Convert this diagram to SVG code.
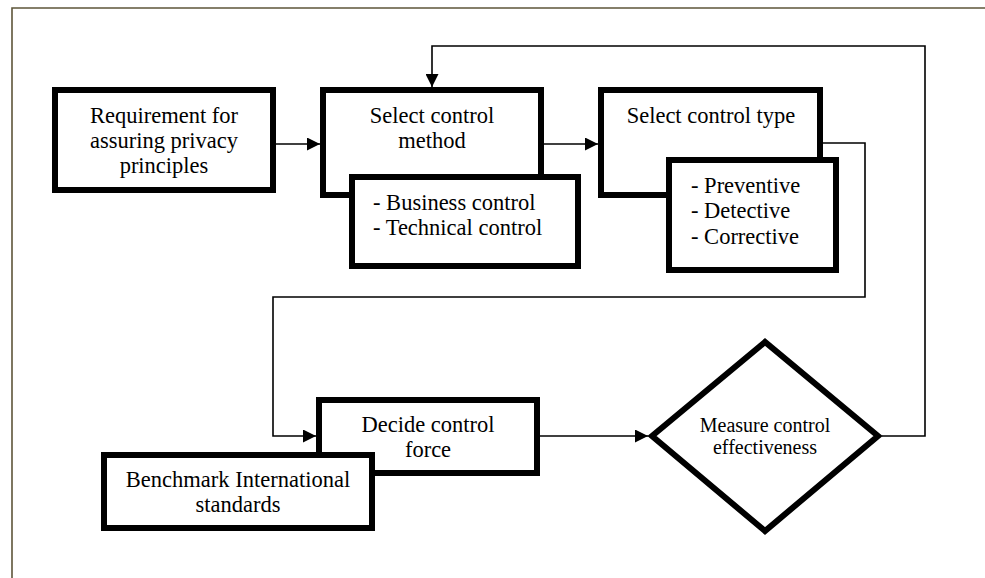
<svg xmlns="http://www.w3.org/2000/svg" width="985" height="578" viewBox="0 0 985 578">
  <style>
    .box { fill: #ffffff; stroke: #000000; stroke-width: 6; }
    .conn { fill: none; stroke: #000000; stroke-width: 1.6; }
    .lbl { font-family: "Liberation Serif", "Times New Roman", serif; font-size: 22.5px; fill: #000000; }
    .mid { text-anchor: middle; }
    .small { font-size: 20px; }
  </style>
  <defs>
    <marker id="arrow" viewBox="0 0 13 13" refX="13" refY="6.5" markerWidth="13" markerHeight="13" markerUnits="userSpaceOnUse" orient="auto">
      <path d="M0,0 L13,6.5 L0,13 z" fill="#000000"/>
    </marker>
  </defs>

  <rect width="985" height="578" fill="#ffffff"/>
  <!-- page frame -->
  <path d="M12,578 V8 H985" fill="none" stroke="#5e553a" stroke-width="1.6"/>

  <g id="connectors">
    <path class="conn" d="M276,144 H320" marker-end="url(#arrow)"/>
    <path class="conn" d="M544,144 H598" marker-end="url(#arrow)"/>
    <path class="conn" d="M823,143 H865 V297 H273 V436 H316" marker-end="url(#arrow)"/>
    <path class="conn" d="M540,436 H648" marker-end="url(#arrow)"/>
    <path class="conn" d="M882,436 H925 V46 H432 V87" marker-end="url(#arrow)"/>
  </g>

  <g id="requirement">
    <rect class="box" x="55" y="90" width="218" height="100"/>
    <text class="lbl mid" x="164" y="123">Requirement for</text>
    <text class="lbl mid" x="164" y="148">assuring privacy</text>
    <text class="lbl mid" x="164" y="173">principles</text>
  </g>

  <g id="select-method">
    <rect class="box" x="323" y="90" width="218" height="105"/>
    <text class="lbl mid" x="432" y="123">Select control</text>
    <text class="lbl mid" x="432" y="148">method</text>
  </g>

  <g id="method-options">
    <rect class="box" x="352" y="177" width="226" height="89"/>
    <text class="lbl" x="373" y="210">- Business control</text>
    <text class="lbl" x="373" y="235">- Technical control</text>
  </g>

  <g id="select-type">
    <rect class="box" x="601" y="90" width="219" height="105"/>
    <text class="lbl mid" x="711" y="123">Select control type</text>
  </g>

  <g id="type-options">
    <rect class="box" x="669" y="160" width="167" height="110"/>
    <text class="lbl" x="691" y="193">- Preventive</text>
    <text class="lbl" x="691" y="218">- Detective</text>
    <text class="lbl" x="691" y="244">- Corrective</text>
  </g>

  <g id="decide-force">
    <rect class="box" x="319" y="400" width="218" height="73"/>
    <text class="lbl mid" x="428" y="432">Decide control</text>
    <text class="lbl mid" x="428" y="457">force</text>
  </g>

  <g id="benchmark">
    <rect class="box" x="104" y="455" width="268" height="73"/>
    <text class="lbl mid" x="238" y="487">Benchmark International</text>
    <text class="lbl mid" x="238" y="512">standards</text>
  </g>

  <g id="measure">
    <path class="box" d="M652,436 L765,342 L878,436 L765,531 Z"/>
    <text class="lbl mid small" x="765" y="432">Measure control</text>
    <text class="lbl mid small" x="765" y="454">effectiveness</text>
  </g>
</svg>
